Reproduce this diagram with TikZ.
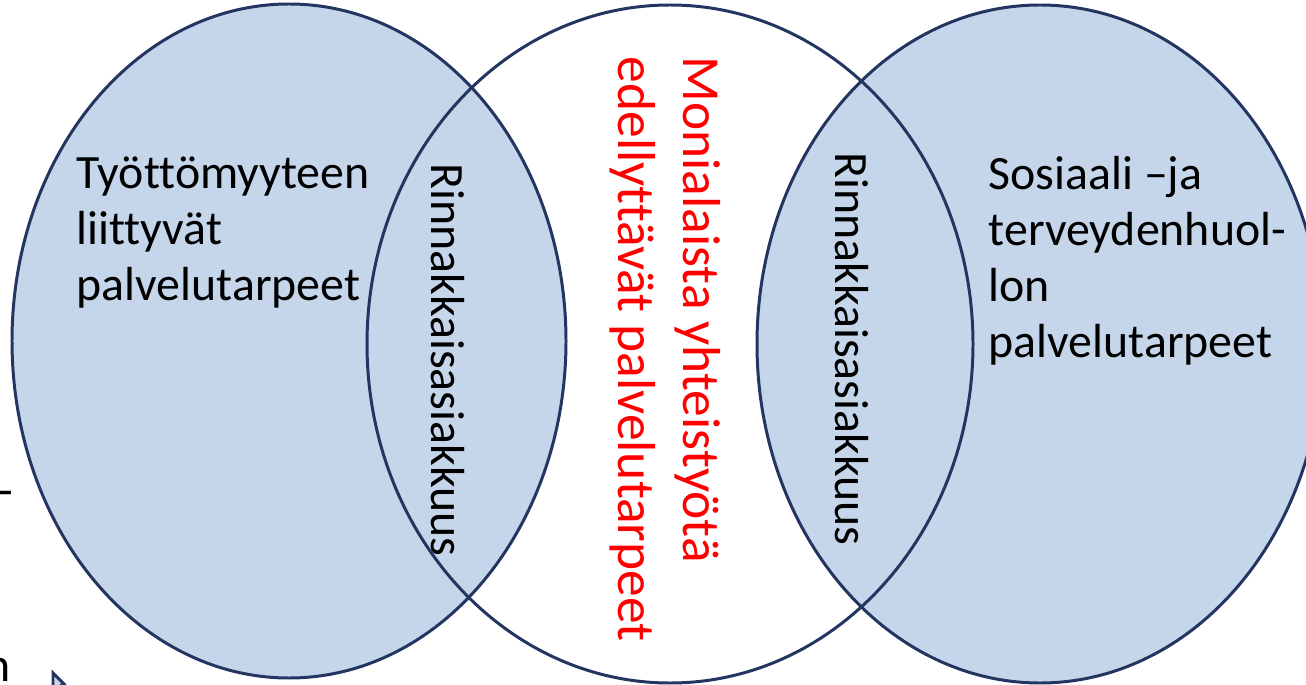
\documentclass[tikz,border=0pt]{standalone}
\usepackage{fontspec}
\setmainfont[Ligatures=NoCommon]{Carlito}
\usepackage{tikz}
\usetikzlibrary{calc}
\definecolor{setfill}{HTML}{C5D6EB}
\definecolor{setline}{HTML}{233560}
\definecolor{redtext}{HTML}{FF0000}

\begin{document}
\begin{tikzpicture}[x=0.01cm,y=-0.01cm,
  set/.style={draw=setline,line width=0.85pt},
  main text/.style={inner sep=0pt,align=left,font=\fontsize{13.6}{15.9}\selectfont},
  lens label/.style={main text,rotate=-90}]

\useasboundingbox (0,0) rectangle (1306,685);
\clip (0,0) rectangle (1306,685);

% the two blue sets, then all outlines
\fill[setfill] (289,341) ellipse [x radius=277, y radius=337];
\fill[setfill] (1040,344) ellipse [x radius=283, y radius=339];
\draw[set] (289,341) ellipse [x radius=277, y radius=337];
\draw[set] (670,344) ellipse [x radius=303, y radius=339];
\draw[set] (1040,344) ellipse [x radius=283, y radius=339];

\node[main text,anchor=north west] (left) at (76,156)
  {Työttömyyteen\\liittyvät\\palvelutarpeet};
\node[main text,anchor=north west] (right) at (988,156)
  {Sosiaali –ja\\terveydenhuol-\\lon\\palvelutarpeet};

\foreach \x/\y/\n in {448/360/lensL,852/349/lensR}{
  \node[lens label] (\n) at (\x,\y) {Rinnakkaisasiakkuus};
}

\node[main text,rotate=-90,anchor=north west,text=redtext,
  font=\fontsize{15.2}{18.4}\selectfont] (middle) at (721,56)
  {Monialaista yhteistyötä\\edellyttävät palvelutarpeet};

% cut-off bits at the left edge
\node[main text,anchor=base east] (dash) at (14,506) {-};
\node[main text,anchor=base east] (ncut) at (11,681) {n};
\draw[setline,fill=setfill,line width=0.85pt] (53,673) -- (64,684) -- (53,690) -- cycle;

\end{tikzpicture}
\end{document}
